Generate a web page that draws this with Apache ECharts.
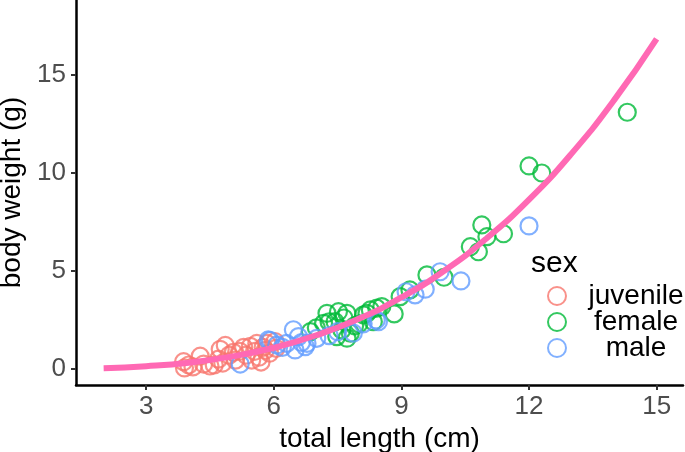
<!DOCTYPE html>
<html>
<head>
<meta charset="utf-8">
<script src="https://cdn.jsdelivr.net/npm/echarts@6/dist/echarts.min.js"></script>
<style>
html,body{margin:0;padding:0;background:#fff;}
#chart{width:685px;height:452px;}
</style>
</head>
<body>
<div id="chart"></div>
<script>
// ---- data ----
const xTicks = [3, 6, 9, 12, 15];
const yTicks = [0, 5, 10, 15];
const sexes = ['juvenile', 'female', 'male'];

const juvenile = [
  [3.88,0.37],[3.9,0.05],[4.0,0.2],[4.1,0.1],[4.27,0.65],[4.35,0.25],[4.5,0.15],
  [4.6,0.2],[4.7,0.5],[4.74,1.0],[4.8,0.3],[4.86,1.2],[4.95,0.7],[5.05,0.85],
  [5.1,0.45],[5.2,0.9],[5.29,1.1],[5.35,0.7],[5.45,1.15],[5.48,0.45],[5.55,0.9],
  [5.6,1.3],[5.65,0.6],[5.7,0.35],[5.75,1.1],[5.8,0.95],[5.84,1.3],[5.9,0.8],
  [6.03,1.4],[6.05,1.05]
];
const female = [
  [6.86,1.9],[7.0,2.1],[7.17,2.33],[7.25,2.84],[7.3,2.4],[7.44,2.41],[7.48,1.65],
  [7.52,2.92],[7.6,1.99],[7.65,2.6],[7.72,2.84],[7.72,1.57],[7.8,1.82],[7.9,2.2],
  [8.0,2.3],[8.11,2.76],[8.19,2.84],[8.27,3.01],[8.34,2.41],[8.42,3.1],[8.54,3.18],
  [8.83,2.81],[8.97,3.69],[9.2,4.03],[9.6,4.8],[10.0,4.68],[10.62,6.24],[10.81,5.98],
  [10.89,7.35],[11.01,6.75],[11.4,6.9],[12.0,10.36],[12.3,10.0],[14.31,13.1]
];
const male = [
  [5.21,0.25],[5.87,1.48],[5.92,1.45],[6.07,1.22],[6.2,1.1],[6.3,1.3],[6.46,2.0],
  [6.5,0.97],[6.58,1.65],[6.65,1.35],[6.74,1.14],[6.78,1.3],[7.01,1.56],[7.3,1.7],
  [7.5,1.9],[7.87,1.83],[8.1,2.3],[8.41,2.5],[8.46,2.41],[9.11,3.94],[9.32,3.78],
  [9.56,4.07],[9.91,4.96],[10.4,4.49],[12.0,7.3]
];
const curveX = [2, 3, 4, 5, 6, 7, 8, 9, 10, 11, 12, 13, 14, 15];
const curveY = [0.04, 0.14, 0.32, 0.63, 1.08, 1.72, 2.56, 3.65, 5.0, 6.66, 8.64, 10.99, 13.72, 16.85];

const FONT = 'Liberation Sans, Arial, sans-serif';
const chart = echarts.init(document.getElementById('chart'));

function pts(name, data, color) {
  return {
    name: name, type: 'scatter', data: data, symbol: 'circle', symbolSize: 17,
    itemStyle: { color: 'rgba(0,0,0,0)', borderColor: color, borderWidth: 2.2 },
    emphasis: { disabled: true }, z: 2
  };
}

const legendTops = [277, 303, 329];
const legends = sexes.map((s, i) => ({
  orient: 'vertical', left: 542, top: legendTops[i], itemWidth: 18, itemHeight: 18,
  data: [{ name: s, icon: 'circle' }],
  formatter: function (n) { return '{c|' + n + '}'; },
  textStyle: {
    fontSize: 28, color: '#000', fontFamily: FONT,
    rich: { c: { width: 130, align: 'center', fontSize: 28, color: '#000', fontFamily: FONT } }
  },
  selectedMode: false
}));

chart.setOption({
  animation: false,
  backgroundColor: '#fff',
  grid: { left: 76, right: 2, top: 0, bottom: 67, containLabel: false, outerBoundsMode: 'none' },
  xAxis: {
    type: 'value', min: 1.35, max: 15.62,
    name: 'total length (cm)', nameLocation: 'middle', nameGap: 38,
    nameTextStyle: { fontSize: 28, color: '#000', fontFamily: FONT },
    axisLine: { show: true, onZero: false, lineStyle: { color: '#000', width: 2.5 } },
    axisTick: { show: true, length: 5, customValues: xTicks, lineStyle: { color: '#333', width: 2 } },
    axisLabel: { customValues: xTicks, fontSize: 26, color: '#4D4D4D', fontFamily: FONT, margin: 9 },
    splitLine: { show: false }
  },
  yAxis: {
    type: 'value', min: -0.82, max: 18.83,
    name: 'body weight (g)', nameLocation: 'middle', nameGap: 45,
    nameTextStyle: { fontSize: 28, color: '#000', fontFamily: FONT },
    axisLine: { show: true, onZero: false, lineStyle: { color: '#000', width: 2.5 } },
    axisTick: { show: true, length: 5, customValues: yTicks, lineStyle: { color: '#333', width: 2 } },
    axisLabel: { customValues: yTicks, fontSize: 26, color: '#4D4D4D', fontFamily: FONT, margin: 10 },
    splitLine: { show: false }
  },
  legend: legends,
  graphic: [{
    type: 'text', silent: true,
    style: { x: 531, y: 264, text: 'sex', fontSize: 30, fontFamily: FONT, fill: '#000', verticalAlign: 'middle' }
  }],
  series: [
    pts('juvenile', juvenile, '#F8766D'),
    pts('female', female, '#00BA38'),
    pts('male', male, '#619CFF'),
    {
      name: 'fit', type: 'line', smooth: true, symbol: 'none',
      data: curveX.map((x, i) => [x, curveY[i]]),
      lineStyle: { color: '#FF69B4', width: 6 }, z: 5, emphasis: { disabled: true }
    }
  ]
});
</script>
</body>
</html>
